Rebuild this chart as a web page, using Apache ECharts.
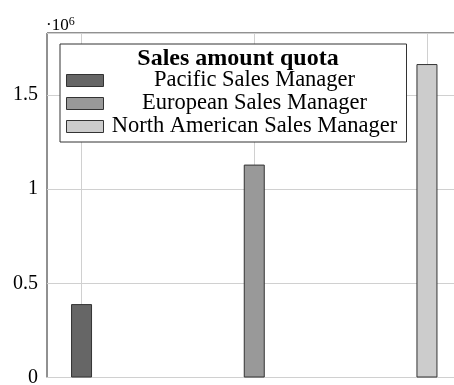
<!DOCTYPE html>
<html>
<head>
<meta charset="utf-8">
<script src="https://cdn.jsdelivr.net/npm/echarts@6/dist/echarts.min.js"></script>
<style>
  html, body { margin: 0; padding: 0; background: #fff; }
  #chart { width: 454px; height: 385px; }
</style>
</head>
<body>
<div id="chart"></div>
<script>
// Sales amount quota per sales manager role
const managers = ['Pacific Sales Manager', 'European Sales Manager', 'North American Sales Manager'];
const positions = [0, 1, 2];
const quotas = [390000, 1131000, 1665000];
const barColors = ['#666666', '#999999', '#cccccc'];
const yTicks = [0, 500000, 1000000, 1500000];

const FONT = '"Liberation Serif", "DejaVu Serif", serif';

const chart = echarts.init(document.getElementById('chart'), null, { renderer: 'canvas' });

const series = managers.map((name, i) => ({
  name: name,
  type: 'bar',
  data: [[positions[i], quotas[i]]],
  barWidth: 21,
  barGap: '-100%',
  itemStyle: { color: barColors[i], borderColor: '#333', borderWidth: 1 },
  emphasis: { disabled: true },
  animation: false
}));

chart.setOption({
  animation: false,
  backgroundColor: '#fff',
  grid: {
    left: 47, top: 33, width: 414.5, bottom: 7.5,
    outerBoundsMode: 'none',
    show: true, borderColor: '#222', borderWidth: 1, containLabel: false
  },
  title: {
    text: 'Sales amount quota',
    left: 233, top: 42, textAlign: 'center',
    textStyle: { fontFamily: FONT, fontWeight: 'bold', fontSize: 24, color: '#000' },
    z: 10
  },
  legend: {
    orient: 'vertical',
    left: 60, top: 44,
    padding: [25, 6, 4, 6],
    itemGap: 0,
    itemWidth: 37, itemHeight: 12,
    backgroundColor: '#fff',
    borderColor: '#333', borderWidth: 1,
    icon: 'rect',
    itemStyle: { borderColor: '#333', borderWidth: 1 },
    data: managers,
    formatter: name => '{t|' + name + '}',
    textStyle: {
      fontFamily: FONT, fontSize: 22.5, color: '#000',
      rich: { t: { width: 292, height: 22, align: 'center', lineHeight: 22, fontFamily: FONT, fontSize: 22.5 } }
    },
    selectedMode: false
  },
  xAxis: {
    type: 'value',
    min: -0.2, max: 2.2,
    axisLine: { show: false },
    axisTick: { show: false, customValues: positions },
    axisLabel: { show: false, customValues: positions },
    splitLine: { show: true, lineStyle: { color: '#d0d0d0', width: 1 } }
  },
  yAxis: {
    type: 'value',
    min: 0, max: 1830000, interval: 500000,
    axisLine: { show: false, onZero: false },
    axisTick: { show: false },
    axisLabel: {
      showMaxLabel: false,
      margin: 9,
      fontFamily: FONT, fontSize: 20, color: '#000',
      formatter: v => (yTicks.indexOf(v) >= 0 ? String(v / 1e6) : '')
    },
    splitLine: { show: true, lineStyle: { color: '#d0d0d0', width: 1 } }
  },
  graphic: [{
    type: 'text',
    left: 46, top: 16,
    style: {
      text: '·10{s|6}',
      fontFamily: FONT, fontSize: 17, fill: '#000',
      rich: { s: { fontFamily: FONT, fontSize: 12, verticalAlign: 'top', padding: [0, 0, 7, 0] } }
    }
  }],
  series: series
});
</script>
</body>
</html>
